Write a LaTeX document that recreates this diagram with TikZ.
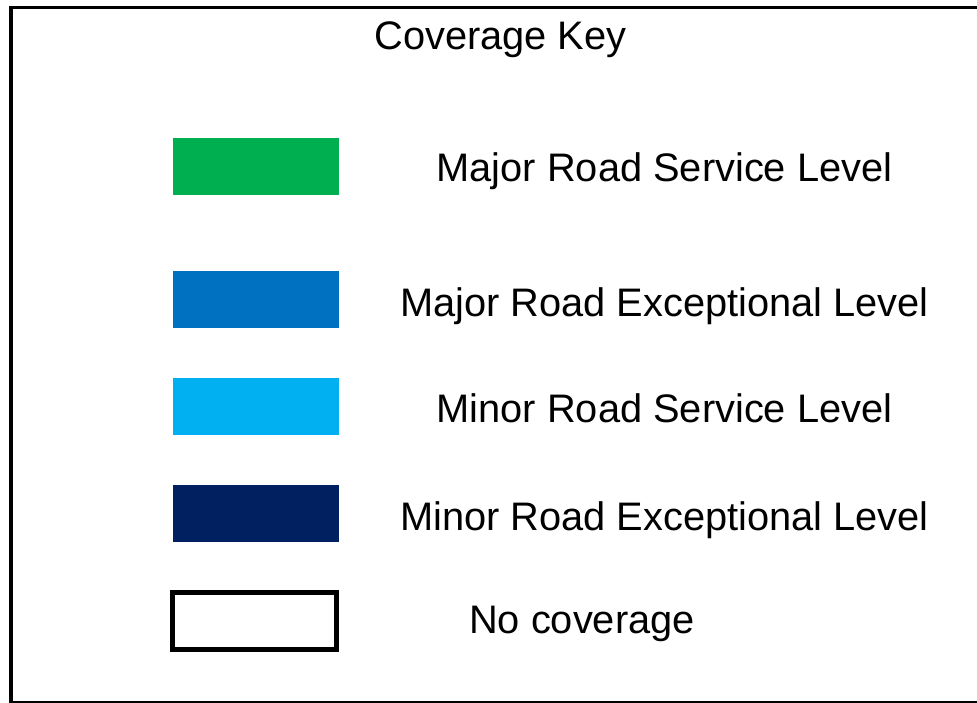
\documentclass[tikz,border=0pt]{standalone}
\usepackage{fontspec}
\setmainfont{Liberation Sans}
\definecolor{majserv}{HTML}{00B050}
\definecolor{majexc}{HTML}{0070C0}
\definecolor{minserv}{HTML}{00B0F0}
\definecolor{minexc}{HTML}{002060}
\begin{document}
\begin{tikzpicture}[x=1pt,y=-1pt,
  swatch/.style={minimum width=166pt,minimum height=57pt,inner sep=0pt,outer sep=0pt},
  keytext/.style={anchor=base,inner sep=0pt,font=\fontsize{39.8}{48}\selectfont}]
\useasboundingbox (0,0) rectangle (977,703);
\draw[line width=3.5pt] (11,7.5) rectangle (985,702.5);
\node[keytext] (title) at (500.5,49.5) {Coverage Key};
\node[swatch,fill=majserv] (s1) at (256,166.5) {};
\node[swatch,fill=majexc] (s2) at (256,299.5) {};
\node[swatch,fill=minserv] (s3) at (256,406.5) {};
\node[swatch,fill=minexc] (s4) at (256,513.5) {};
\node[swatch,draw=black,line width=5pt,minimum width=164pt,minimum height=57pt] (s5) at (254.5,621) {};
\node[keytext] (t1) at (664.5,182) {Major Road Service Level};
\node[keytext] (t2) at (664.5,316.5) {Major Road Exceptional Level};
\node[keytext] (t3) at (664.5,422.5) {Minor Road Service Level};
\node[keytext] (t4) at (664.5,530) {Minor Road Exceptional Level};
\node[keytext] (t5) at (582,633.5) {No coverage};
\end{tikzpicture}
\end{document}
